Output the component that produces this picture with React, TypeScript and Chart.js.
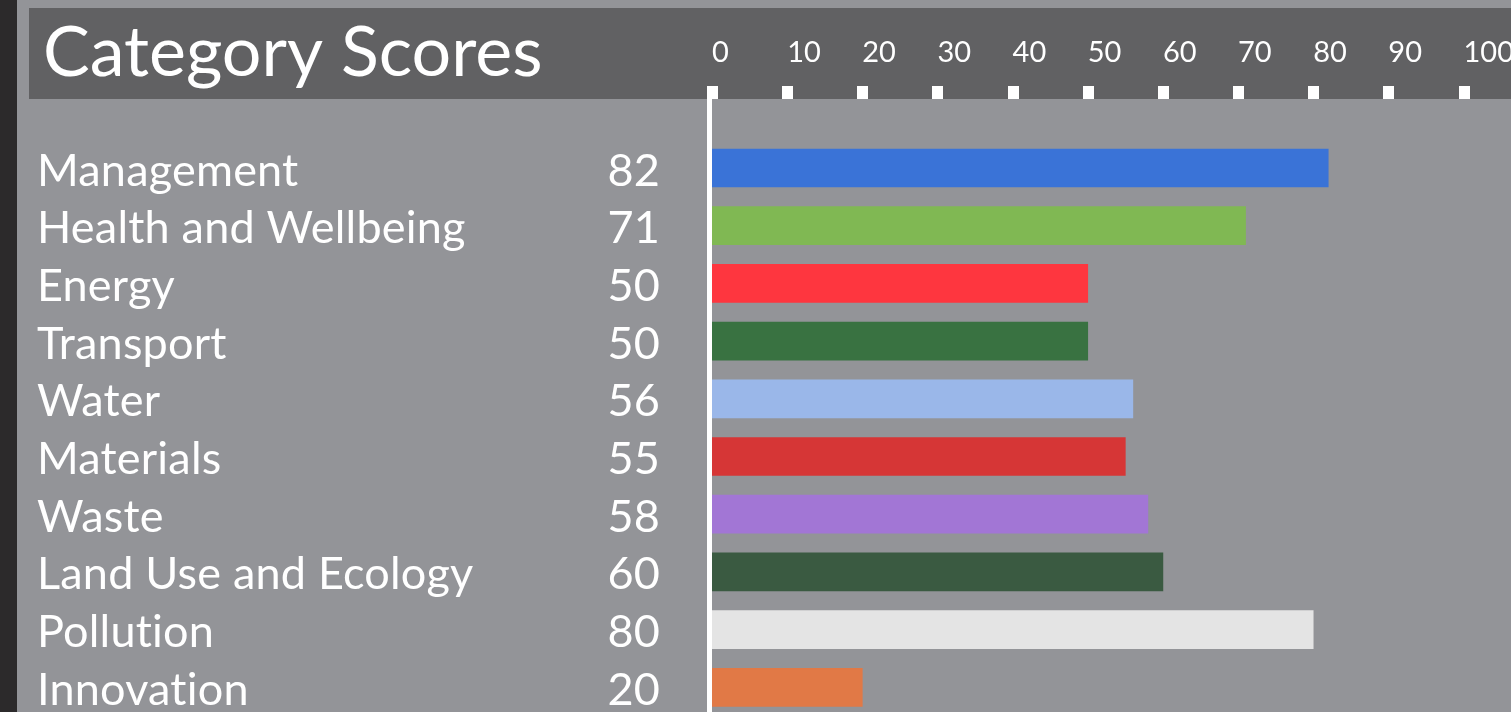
import React, { useEffect, useRef } from "react";
import { Chart, registerables } from "chart.js";

Chart.register(...registerables);

// ---- data ----
const chartTitle = "Category Scores";
const categories = [
  "Management",
  "Health and Wellbeing",
  "Energy",
  "Transport",
  "Water",
  "Materials",
  "Waste",
  "Land Use and Ecology",
  "Pollution",
  "Innovation",
];
const scores = [82, 71, 50, 50, 56, 55, 58, 60, 80, 20];
const barColors = [
  "#3a73d7",
  "#80b853",
  "#fe363f",
  "#397241",
  "#9ab7e9",
  "#d63636",
  "#a276d5",
  "#3a5a41",
  "#e4e4e4",
  "#e17946",
];
const axisMin = 0;
const axisMax = 100;
const axisStep = 10;

// ---- layout / style ----
const VIEW_W = 1511;
const VIEW_H = 712;
const CANVAS_W = 1530;
const CANVAS_H = 730;
const FONT = "Lato, 'Open Sans', sans-serif";
const BG = "#939498";
const BAND = "#616163";
const STRIP = "#2c2a2b";
const TICK_FONT_SIZE = 29;
const TICK_LEN = 69.45;
const AREA_TOP = 139.15;
const AREA_BOTTOM = 716.15;

const backdropPlugin = {
  id: "backdrop",
  beforeDraw(chart: any) {
    const { ctx } = chart;
    ctx.save();
    ctx.fillStyle = BG;
    ctx.fillRect(0, 0, chart.width, chart.height);
    ctx.fillStyle = STRIP;
    ctx.fillRect(0, 0, 17, chart.height);
    ctx.fillStyle = BAND;
    ctx.fillRect(29, 8, chart.width - 29, 91);
    // title
    ctx.fillStyle = "#ffffff";
    ctx.font = `400 70px ${FONT}`;
    ctx.textBaseline = "alphabetic";
    ctx.textAlign = "left";
    ctx.fillText(chartTitle, 43, 76);
    // category labels and scores
    const yScale = chart.scales.y;
    ctx.font = `400 45px ${FONT}`;
    try {
      (ctx as any).letterSpacing = "0.2px";
    } catch (e) {
      /* ignore */
    }
    categories.forEach((label, i) => {
      const y = yScale.getPixelForValue(i) + 17.5;
      ctx.textAlign = "left";
      ctx.fillText(label, 37, y);
      ctx.textAlign = "right";
      ctx.fillText(String(scores[i]), 660, y);
    });
    ctx.restore();
  },
  afterDraw(chart: any) {
    const { ctx } = chart;
    const xScale = chart.scales.x;
    ctx.save();
    ctx.fillStyle = "#ffffff";
    // tick squares
    xScale.ticks.forEach((t: any) => {
      const px = xScale.getPixelForValue(t.value);
      ctx.fillRect(Math.round(px - 5), 86, 11, 13);
    });
    // vertical zero line
    const x0 = xScale.getPixelForValue(axisMin);
    ctx.fillRect(x0 - 5, 86, 5, chart.height);
    ctx.restore();
  },
};

export default function App() {
  const canvasRef = useRef<HTMLCanvasElement | null>(null);

  useEffect(() => {
    const canvas = canvasRef.current;
    if (!canvas) return;
    const chart = new Chart(canvas, {
      type: "bar",
      data: {
        labels: categories,
        datasets: [
          {
            data: scores,
            backgroundColor: barColors,
            barThickness: 38,
            borderWidth: 0,
          },
        ],
      },
      options: {
        indexAxis: "y",
        responsive: false,
        animation: false,
        devicePixelRatio: 1,
        layout: {
          padding: {
            left: 712,
            right: CANVAS_W - 1463.5,
            top: AREA_TOP - TICK_LEN - TICK_FONT_SIZE * 1.2,
            bottom: CANVAS_H - AREA_BOTTOM,
          },
        },
        plugins: {
          legend: { display: false },
          tooltip: { enabled: false },
          title: { display: false },
        },
        scales: {
          x: {
            position: "top",
            min: axisMin,
            max: axisMax,
            ticks: {
              stepSize: axisStep,
              color: "#ffffff",
              align: "start",
              padding: 0,
              autoSkip: false,
              maxRotation: 0,
              font: { family: FONT, size: TICK_FONT_SIZE },
            },
            grid: { display: false, drawTicks: true, tickLength: TICK_LEN },
            border: { display: false },
          },
          y: {
            display: false,
          },
        },
      },
      plugins: [backdropPlugin],
    } as any);
    return () => chart.destroy();
  }, []);

  return (
    <div
      style={{
        position: "fixed",
        left: 0,
        top: 0,
        width: VIEW_W,
        height: VIEW_H,
        overflow: "hidden",
        background: BG,
      }}
    >
      <canvas
        ref={canvasRef}
        width={CANVAS_W}
        height={CANVAS_H}
        style={{ display: "block", width: CANVAS_W, height: CANVAS_H }}
      />
    </div>
  );
}
